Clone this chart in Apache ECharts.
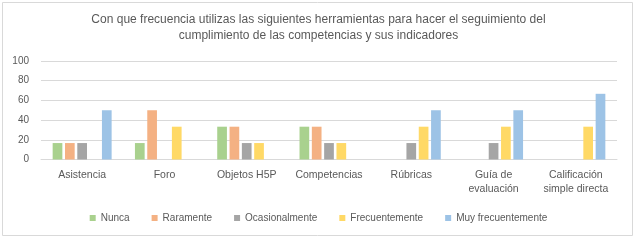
<!DOCTYPE html>
<html>
<head>
<meta charset="utf-8">
<script src="https://cdn.jsdelivr.net/npm/echarts@6/dist/echarts.min.js"></script>
<style>
    html, body { margin: 0; padding: 0; background: #fff; }
    #chart { width: 637px; height: 240px; }
</style>
</head>
<body>
<div id="chart"></div>
<script>
var categories = ['Asistencia', 'Foro', 'Objetos H5P', 'Competencias', 'Rúbricas',
    'Guía de\nevaluación', 'Calificación\nsimple directa'];
var seriesNames = ['Nunca', 'Raramente', 'Ocasionalmente', 'Frecuentemente', 'Muy frecuentemente'];
var seriesColors = ['#A9D18E', '#F4B183', '#A5A5A5', '#FFD966', '#9DC3E6'];

var nunca = [16.7, 16.7, 33.3, 33.3, 0, 0, 0];
var raramente = [16.7, 50, 33.3, 33.3, 0, 0, 0];
var ocasionalmente = [16.7, 0, 16.7, 16.7, 16.7, 16.7, 0];
var frecuentemente = [0, 33.3, 16.7, 16.7, 33.3, 33.3, 33.3];
var muyFrecuentemente = [50, 0, 0, 0, 50, 50, 66.7];

var yTicks = { min: 0, max: 100, interval: 20 };

var titleText = 'Con que frecuencia utilizas las siguientes herramientas para hacer el seguimiento del\n' +
    'cumplimiento de las competencias y sus indicadores';

var seriesValues = [nunca, raramente, ocasionalmente, frecuentemente, muyFrecuentemente];
var font = '"Liberation Sans", Arial, sans-serif';
var textColor = '#595959';

var chart = echarts.init(document.getElementById('chart'));

var series = seriesNames.map(function (name, i) {
    return {
        name: name,
        type: 'bar',
        barWidth: 9.7,
        barGap: '27%',
        itemStyle: { color: seriesColors[i] },
        data: seriesValues[i]
    };
});

chart.setOption({
    animation: false,
    backgroundColor: '#fff',
    textStyle: { fontFamily: font },
    title: {
        text: titleText,
        left: 'center',
        top: 12,
        padding: 0,
        textStyle: {
            fontFamily: font,
            fontSize: 12,
            fontWeight: 'normal',
            color: textColor,
            lineHeight: 16
        }
    },
    legend: {
        data: seriesNames,
        left: 'center',
        top: 208,
        icon: 'rect',
        itemWidth: 6,
        itemHeight: 6,
        itemGap: 22,
        textStyle: { fontFamily: font, fontSize: 10, color: textColor }
    },
    grid: {
        left: 41,
        right: 20,
        top: 61,
        bottom: 80.5
    },
    xAxis: {
        type: 'category',
        data: categories,
        axisLine: { lineStyle: { color: '#d9d9d9' } },
        axisTick: { show: false },
        axisLabel: {
            fontFamily: font,
            fontSize: 10.5,
            color: textColor,
            margin: 8.5,
            lineHeight: 14,
            interval: 0
        }
    },
    yAxis: {
        type: 'value',
        min: yTicks.min,
        max: yTicks.max,
        interval: yTicks.interval,
        axisLine: { show: false },
        axisTick: { show: false },
        splitLine: { lineStyle: { color: '#d9d9d9' } },
        axisLabel: { fontFamily: font, fontSize: 10, color: textColor, margin: 12 }
    },
    graphic: [{
        type: 'rect',
        shape: { x: 2.5, y: 2.5, width: 630, height: 233 },
        style: { fill: 'none', stroke: '#d9d9d9', lineWidth: 1 },
        silent: true
    }],
    series: series
});
</script>
</body>
</html>
